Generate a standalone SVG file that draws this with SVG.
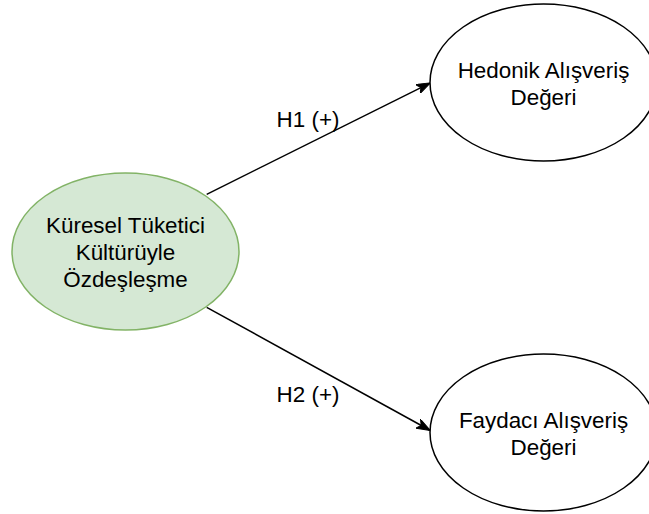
<svg xmlns="http://www.w3.org/2000/svg" width="649" height="514" viewBox="0 0 649 514">
  <style>
    .lbl { font-family: "Liberation Sans", Arial, sans-serif; font-size: 22.4px; fill: #000000; text-anchor: middle; }
    .edge { stroke: #000000; stroke-width: 1.5; fill: none; }
    .node { fill: #ffffff; stroke: #000000; stroke-width: 1.5; }
    .green { fill: #d5e8d4; stroke: #82b366; stroke-width: 1.5; }
  </style>
  <defs>
    <marker id="arrow" viewBox="0 0 14 10" refX="13" refY="5" markerWidth="14" markerHeight="10" markerUnits="userSpaceOnUse" orient="auto">
      <path d="M0,0 L14,5 L0,10 L3.5,5 Z" fill="#000000" stroke="#000000" stroke-width="1"/>
    </marker>
  </defs>
  <rect width="649" height="514" fill="#ffffff"/>
  <g id="connectors">
    <g id="edge-h1">
      <line class="edge" x1="206.7" y1="194.3" x2="429.5" y2="83.3" marker-end="url(#arrow)"/>
      <text class="lbl" x="308" y="127">H1 (+)</text>
    </g>
    <g id="edge-h2">
      <line class="edge" x1="206.7" y1="307.3" x2="429.5" y2="430" marker-end="url(#arrow)"/>
      <text class="lbl" x="308" y="401.5">H2 (+)</text>
    </g>
  </g>
  <g id="node-kuresel">
    <ellipse class="green" cx="125.5" cy="251.5" rx="113.5" ry="78.5"/>
    <text class="lbl" x="125.5" y="233">Küresel Tüketici</text>
    <text class="lbl" x="125.5" y="260">Kültürüyle</text>
    <text class="lbl" x="125.5" y="287">Özdeşleşme</text>
  </g>
  <g id="node-hedonik">
    <ellipse class="node" cx="543.5" cy="82.5" rx="113.5" ry="78.5"/>
    <text class="lbl" x="543.5" y="77.5">Hedonik Alışveriş</text>
    <text class="lbl" x="543.5" y="104.5">Değeri</text>
  </g>
  <g id="node-faydaci">
    <ellipse class="node" cx="543.5" cy="432.5" rx="113.5" ry="78.5"/>
    <text class="lbl" x="543.5" y="427.5">Faydacı Alışveriş</text>
    <text class="lbl" x="543.5" y="454.5">Değeri</text>
  </g>
</svg>
